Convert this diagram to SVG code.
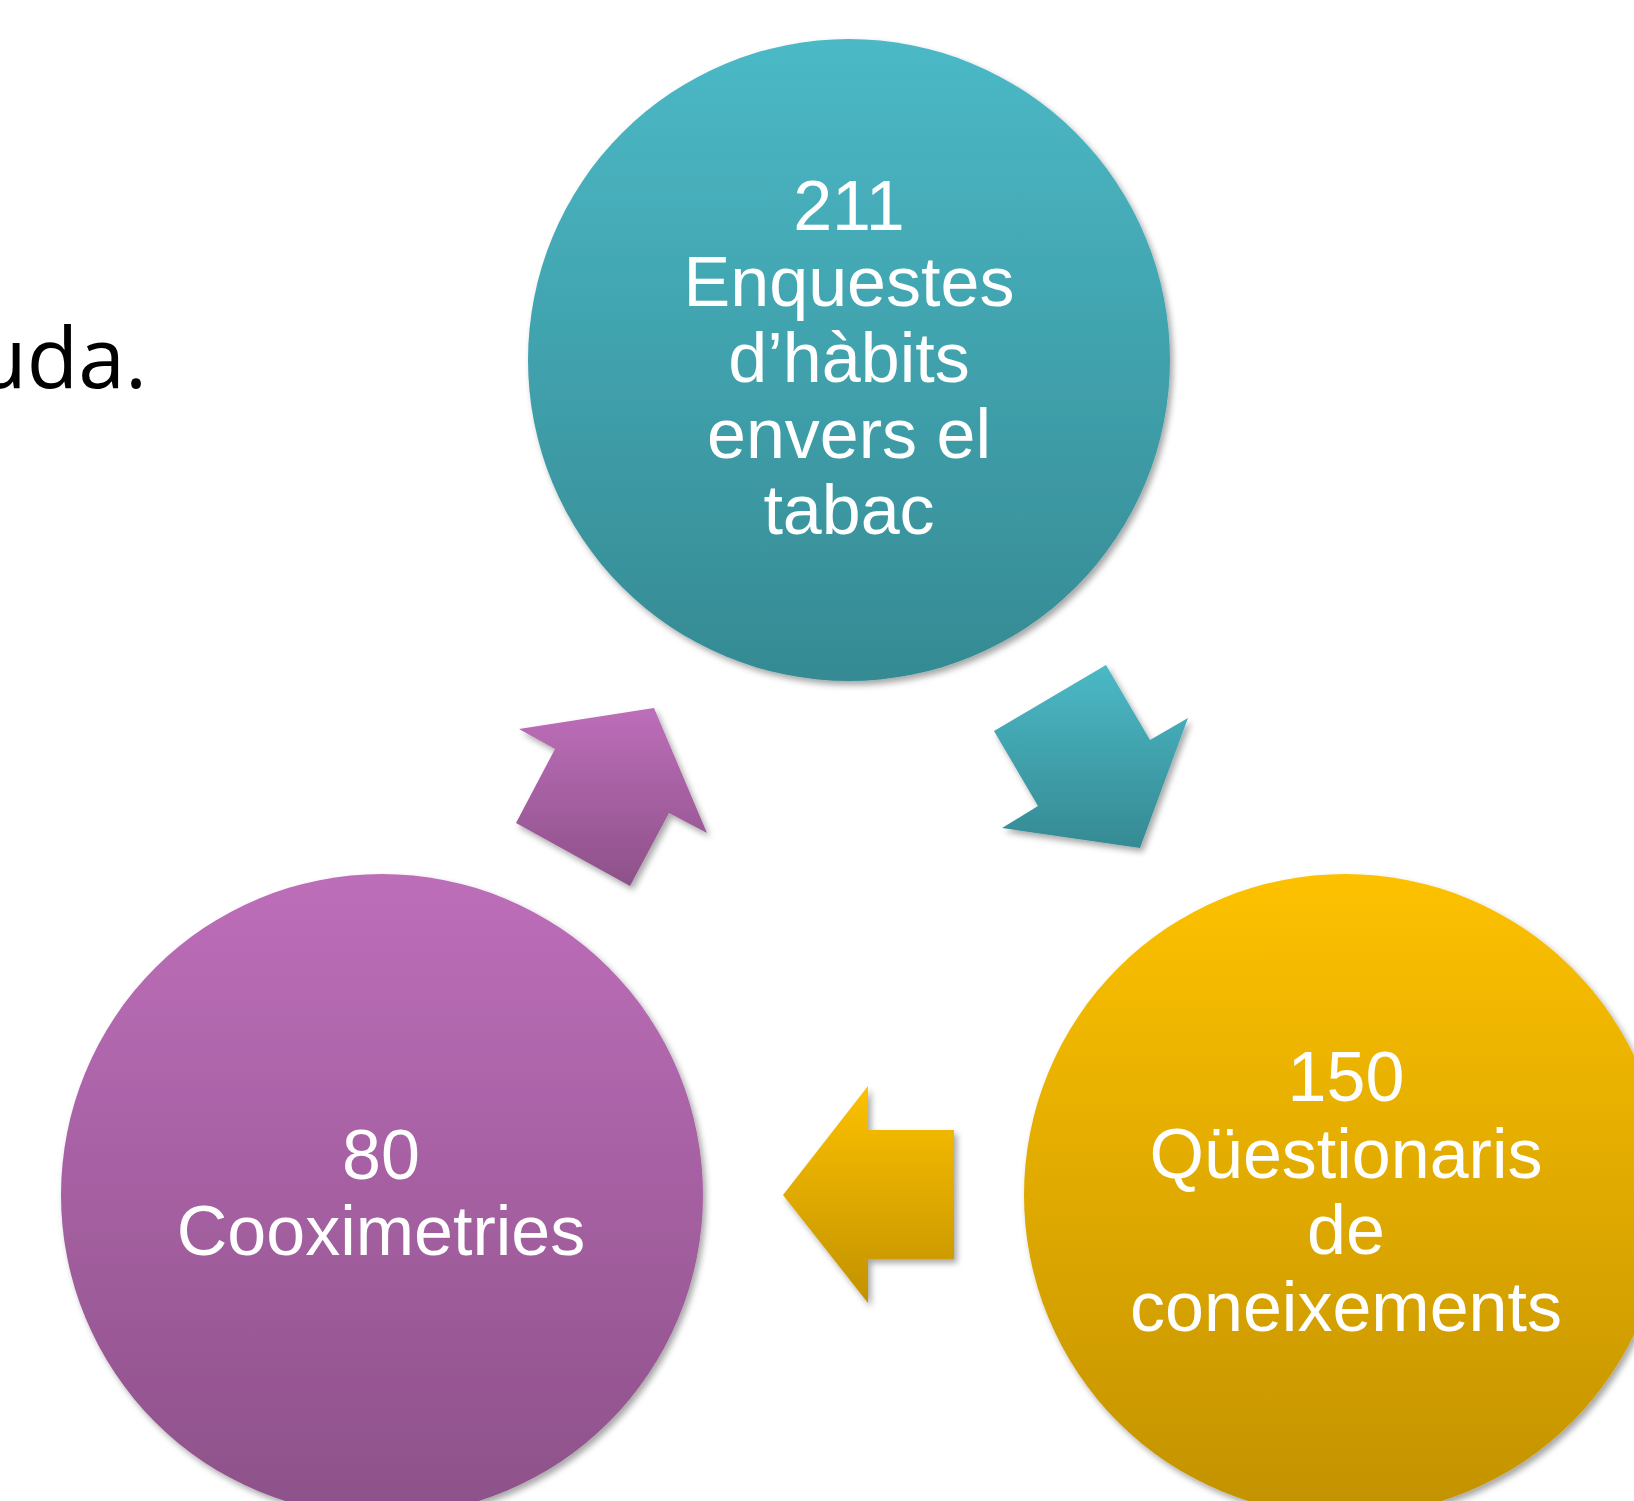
<svg xmlns="http://www.w3.org/2000/svg" width="1634" height="1501" viewBox="0 0 1634 1501">
  <defs>
    <linearGradient id="gTeal" x1="0" y1="0" x2="0" y2="1">
      <stop offset="0" stop-color="#4BB9C6"/>
      <stop offset="1" stop-color="#358A93"/>
    </linearGradient>
    <linearGradient id="gPurple" x1="0" y1="0" x2="0" y2="1">
      <stop offset="0" stop-color="#BD6EB9"/>
      <stop offset="1" stop-color="#8D5189"/>
    </linearGradient>
    <linearGradient id="gYellow" x1="0" y1="0" x2="0" y2="1">
      <stop offset="0" stop-color="#FDC100"/>
      <stop offset="1" stop-color="#C29200"/>
    </linearGradient>
    <filter id="shadow" x="-10%" y="-10%" width="125%" height="125%">
      <feDropShadow dx="3" dy="4" stdDeviation="3" flood-color="#000" flood-opacity="0.35"/>
    </filter>
  </defs>
  <style>
    .lbl { font-family: "Liberation Sans", Arial, sans-serif; font-size: 70px; fill: #FFFFFF; text-anchor: middle; }
    .side { font-family: "Open Sans", "Liberation Sans", sans-serif; font-size: 84px; fill: #000000; text-anchor: end; }
  </style>
  <rect width="1634" height="1501" fill="#FFFFFF"/>

  <text class="side" x="147" y="388">uda.</text>

  <g id="connectors">
    <polygon id="arrow-top-right" points="1106,665 994,731 1038,806 1002,828 1140,848 1188,718 1150,740" fill="url(#gTeal)" filter="url(#shadow)"/>
    <polygon id="arrow-right-left" points="783,1195 868,1086 868,1130 954,1130 954,1259 868,1259 868,1303" fill="url(#gYellow)" filter="url(#shadow)"/>
    <polygon id="arrow-left-top" points="519,729 654,708 707,833 669,813 630,886 516,823 555,749" fill="url(#gPurple)" filter="url(#shadow)"/>
  </g>

  <g id="node-enquestes">
    <circle cx="849" cy="360" r="321" fill="url(#gTeal)" filter="url(#shadow)"/>
    <text class="lbl" x="849" y="230">211</text>
    <text class="lbl" x="849" y="306">Enquestes</text>
    <text class="lbl" x="849" y="382">d’hàbits</text>
    <text class="lbl" x="849" y="458">envers el</text>
    <text class="lbl" x="849" y="534">tabac</text>
  </g>

  <g id="node-questionaris">
    <circle cx="1345" cy="1195" r="321" fill="url(#gYellow)" filter="url(#shadow)"/>
    <text class="lbl" x="1346" y="1101">150</text>
    <text class="lbl" x="1346" y="1178">Qüestionaris</text>
    <text class="lbl" x="1346" y="1254">de</text>
    <text class="lbl" x="1346" y="1331">coneixements</text>
  </g>

  <g id="node-cooximetries">
    <circle cx="382" cy="1195" r="321" fill="url(#gPurple)" filter="url(#shadow)"/>
    <text class="lbl" x="381" y="1179">80</text>
    <text class="lbl" x="381" y="1255">Cooximetries</text>
  </g>
</svg>
